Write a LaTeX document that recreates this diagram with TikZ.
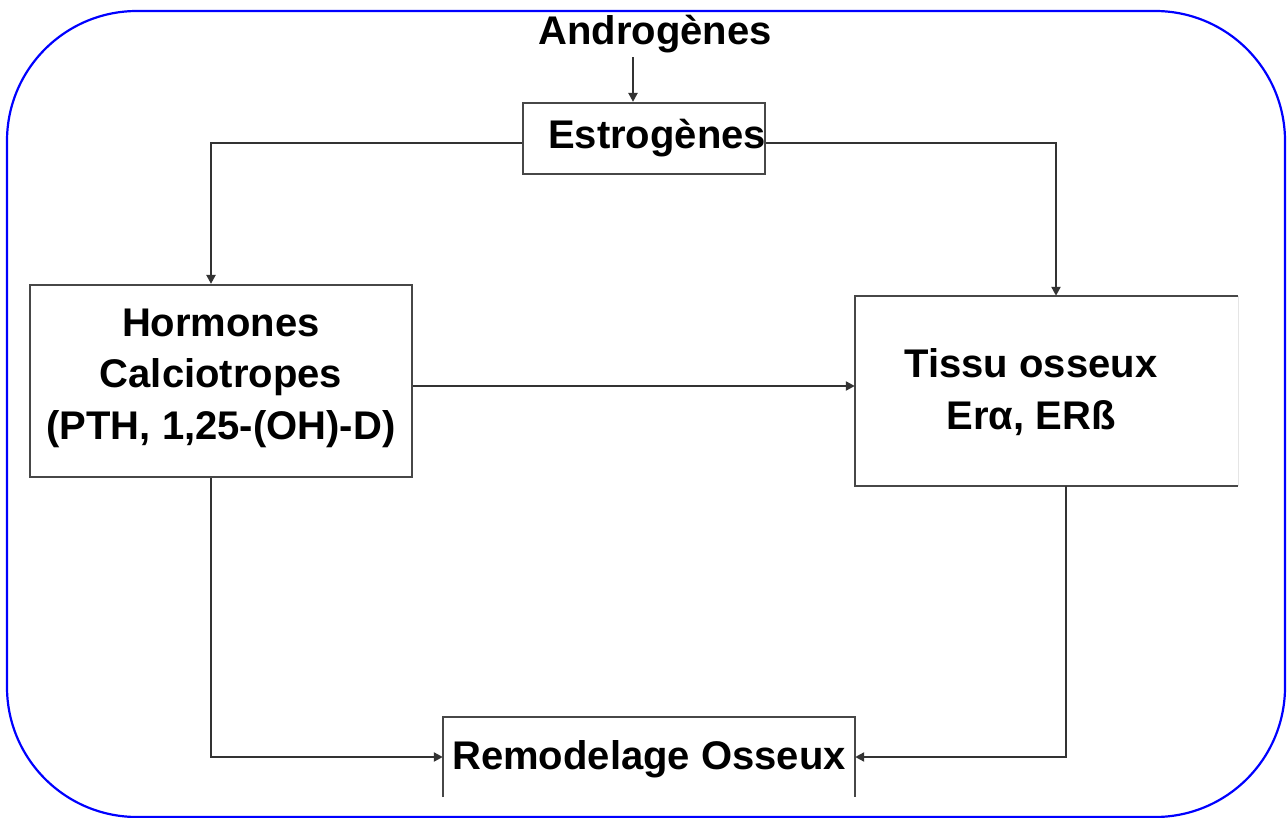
\documentclass[tikz,border=0pt]{standalone}
\usepackage{fontspec}
\setmainfont{Liberation Sans}
\usetikzlibrary{arrows.meta}
\begin{document}
\begin{tikzpicture}[x=1pt,y=-1pt,
  lbl/.style={font=\fontsize{40}{51.5}\selectfont\bfseries, align=center, inner sep=0pt},
  boxx/.style={draw=black!72, line width=2.2pt, inner sep=0pt},
  conn/.style={draw=black!80, line width=2.2pt},
  arr/.style={conn, -{Triangle[length=9pt,width=9pt]}}]
\useasboundingbox (0,0) rectangle (1288,818);
\draw[blue, line width=2.2pt, rounded corners=130pt] (7,11) rectangle (1285,817);
% nodes
\node[lbl] (andro) at (655,34) {Androgènes};
\node[boxx, minimum width=242pt, minimum height=71pt] (estro) at (644,138.5) {};
\node[lbl] (estrot) at (657,138) {Estrogènes};
\node[boxx, minimum width=382pt, minimum height=192pt] (horm) at (221,381) {};
\node[lbl] (hormt) at (221,378) {Hormones\\Calciotropes\\(PTH, 1,25-(OH)-D)};
\node[minimum width=383pt, minimum height=190pt, inner sep=0pt] (tissu) at (1046.5,391) {};
\draw[black!72, line width=2.2pt] (tissu.north east) -- (tissu.north west) -- (tissu.south west) -- (tissu.south east);
\draw[black!10, line width=1pt] (tissu.north east) -- (tissu.south east);
\node[lbl] (tissut) at (1031,392) {Tissu osseux\\Erα, ERß};
\node[minimum width=412pt, minimum height=80pt, inner sep=0pt] (remod) at (649,757) {};
\draw[black!72, line width=2.2pt] (remod.south west) -- (remod.north west) -- (remod.north east) -- (remod.south east);
\node[lbl] (remodt) at (649,759) {Remodelage Osseux};
% connectors
\draw[arr] ([xshift=-22pt,yshift=-4pt]andro.south) -- ([xshift=-11pt]estro.north);
\draw[arr] ([yshift=-4.5pt]estro.west) -| ([xshift=-10pt]horm.north);
\draw[arr] ([yshift=-4.5pt]estro.east) -| ([xshift=9.5pt]tissu.north);
\coordinate (hr) at ([yshift=-5pt]horm.east);
\draw[arr] (hr) -- (hr -| tissu.west);
\draw[arr] ([xshift=-10pt]horm.south) |- (remod.west);
\draw[arr] ([xshift=19.5pt]tissu.south) |- (remod.east);
\end{tikzpicture}
\end{document}
